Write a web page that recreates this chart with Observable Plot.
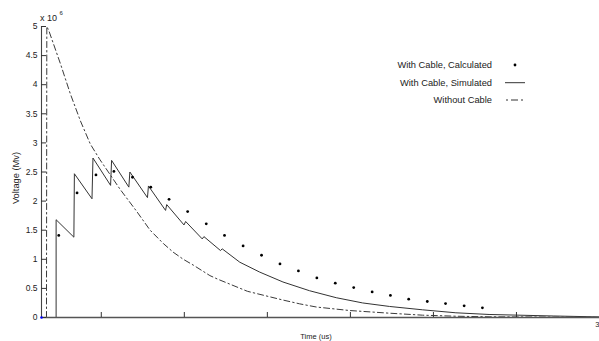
<!DOCTYPE html>
<html><head><meta charset="utf-8">
<script src="https://cdn.jsdelivr.net/npm/d3@7"></script>
<script src="https://cdn.jsdelivr.net/npm/@observablehq/plot@0.6"></script>
<style>
html,body{margin:0;padding:0;background:#fff;}
#wrap{position:relative;width:599px;height:341px;overflow:hidden;}
#wrap svg{display:block;}
#overlay{position:absolute;left:0;top:0;pointer-events:none;}
</style></head><body><div id="wrap"></div>
<script>
// ---- data ----
const xDomain = [1.4, 35];
const yDomain = [0, 5];
const yTicks = [0, 0.5, 1, 1.5, 2, 2.5, 3, 3.5, 4, 4.5, 5];
const xTicks = [5, 10, 15, 20, 25, 30];
const xLabelTicks = [35];

const seriesNames = ["With Cable, Calculated", "With Cable, Simulated", "Without Cable"];

const timeCalc = [2.44,3.54,4.68,5.76,6.88,7.98,9.08,10.20,11.32,12.42,13.54,14.65,15.76,16.87,17.98,19.09,20.20,21.31,22.41,23.51,24.63,25.73,26.85,27.95];
const voltCalc = [1.41,2.14,2.45,2.51,2.41,2.24,2.03,1.82,1.61,1.41,1.23,1.07,0.92,0.80,0.68,0.59,0.515,0.44,0.38,0.315,0.275,0.24,0.20,0.167];

const timeSim = [2.28,2.28,3.35,3.38,4.44,4.50,5.56,5.62,6.66,6.72,7.78,7.84,8.87,8.94,9.98,10.08,11.08,11.18,12.18,12.28,13.34,14.54,15.94,17.54,19.15,20.74,22.35,24.35,26.35,28.35,32.25,35];
const voltSim = [0,1.68,1.38,2.47,2.04,2.74,2.27,2.70,2.24,2.50,2.06,2.26,1.84,1.94,1.59,1.65,1.35,1.39,1.15,1.18,0.95,0.78,0.61,0.46,0.34,0.25,0.19,0.132,0.081,0.052,0.026,0.01];

const timeNo = [1.70,1.72,1.84,2.54,3.14,3.74,4.34,4.90,6.14,7.14,7.94,8.74,9.34,9.94,10.54,11.54,12.0,13.8,15.94,16.94,17.95,19.95,22.35,24.35,26.35,28.35,35];
const voltNo = [0,5.0,4.93,4.36,3.84,3.38,2.98,2.72,2.2,1.82,1.5,1.27,1.12,1.0,0.9,0.72,0.66,0.45,0.3,0.235,0.18,0.12,0.074,0.04,0.022,0.012,0.003];

const originPoint = [{t: 1.4, v: 0}];

const calc = timeCalc.map((t, i) => ({t, v: voltCalc[i]}));
const sim = timeSim.map((t, i) => ({t, v: voltSim[i]}));
const noCable = timeNo.map((t, i) => ({t, v: voltNo[i]}));

const FONT = "Liberation Sans, Arial, Helvetica, sans-serif";
const dashDot = "6,3,1.5,3";

const plot = Plot.plot({
  width: 599, height: 341,
  marginLeft: 41, marginRight: 0, marginTop: 26, marginBottom: 24,
  style: {fontFamily: FONT, fontSize: "8.5px", color: "#222", background: "white", overflow: "visible"},
  x: {domain: xDomain},
  y: {domain: yDomain},
  marks: [
    Plot.line(noCable, {x: "t", y: "v", stroke: "#3a3a3a", strokeWidth: 1, strokeDasharray: dashDot}),
    Plot.line(sim, {x: "t", y: "v", stroke: "#333", strokeWidth: 1}),
    Plot.dot(calc, {x: "t", y: "v", r: 1.4, fill: "#000", stroke: "none"}),
    Plot.ruleY([yDomain[0]], {stroke: "#555", strokeWidth: 1.3}),
    Plot.ruleX([xDomain[0]], {stroke: "#444", strokeWidth: 1.1}),
    Plot.axisY({ticks: yTicks, tickSize: 0, tickPadding: 4, tickFormat: d => String(d), label: null, fontSize: 8.5}),
    Plot.axisY({ticks: yTicks, tickSize: -5, tickFormat: () => "", label: null, stroke: "#333"}),
    Plot.axisX({ticks: xTicks, tickSize: -5, tickFormat: () => "", label: null, stroke: "#333"}),
    Plot.axisX({ticks: xLabelTicks, tickSize: 0, tickPadding: 4, tickFormat: d => String(d), label: null, fontSize: 7.5}),
    Plot.dot(originPoint, {x: "t", y: "v", r: 1.3, fill: "#0000ff", stroke: "none"})
  ]
});
const wrap = document.getElementById("wrap");
wrap.appendChild(plot);

// overlay: legend, axis titles, exponent
const ns = "http://www.w3.org/2000/svg";
const ov = d3.select(wrap).append("svg").attr("id", "overlay")
  .attr("width", 599).attr("height", 341)
  .style("font-family", FONT).style("fill", "#222");

const legendY = [65, 82.7, 100];
const legendTextX = 492;
seriesNames.forEach((name, i) => {
  ov.append("text").attr("x", legendTextX).attr("y", legendY[i]).attr("dy", "0.34em")
    .attr("text-anchor", "end").style("font-size", "9.3px").text(name);
});
ov.append("circle").attr("cx", 515).attr("cy", legendY[0]).attr("r", 1.4).attr("fill", "#000");
ov.append("line").attr("x1", 505).attr("x2", 525).attr("y1", legendY[1]).attr("y2", legendY[1])
  .attr("stroke", "#333").attr("stroke-width", 1);
ov.append("line").attr("x1", 506).attr("x2", 526).attr("y1", legendY[2]).attr("y2", legendY[2])
  .attr("stroke", "#333").attr("stroke-width", 1).attr("stroke-dasharray", "2,3,7,3");

ov.append("text").attr("x", 316).attr("y", 339).attr("text-anchor", "middle")
  .style("font-size", "7.5px").text("Time (us)");
ov.append("text").attr("transform", "translate(18.5,178) rotate(-90)").attr("text-anchor", "middle")
  .style("font-size", "9.3px").text("Voltage (Mv)");
ov.append("text").attr("x", 40).attr("y", 21).style("font-size", "9px").text("x 10");
ov.append("text").attr("x", 59.5).attr("y", 15).style("font-size", "6px").text("6");
</script></body></html>
